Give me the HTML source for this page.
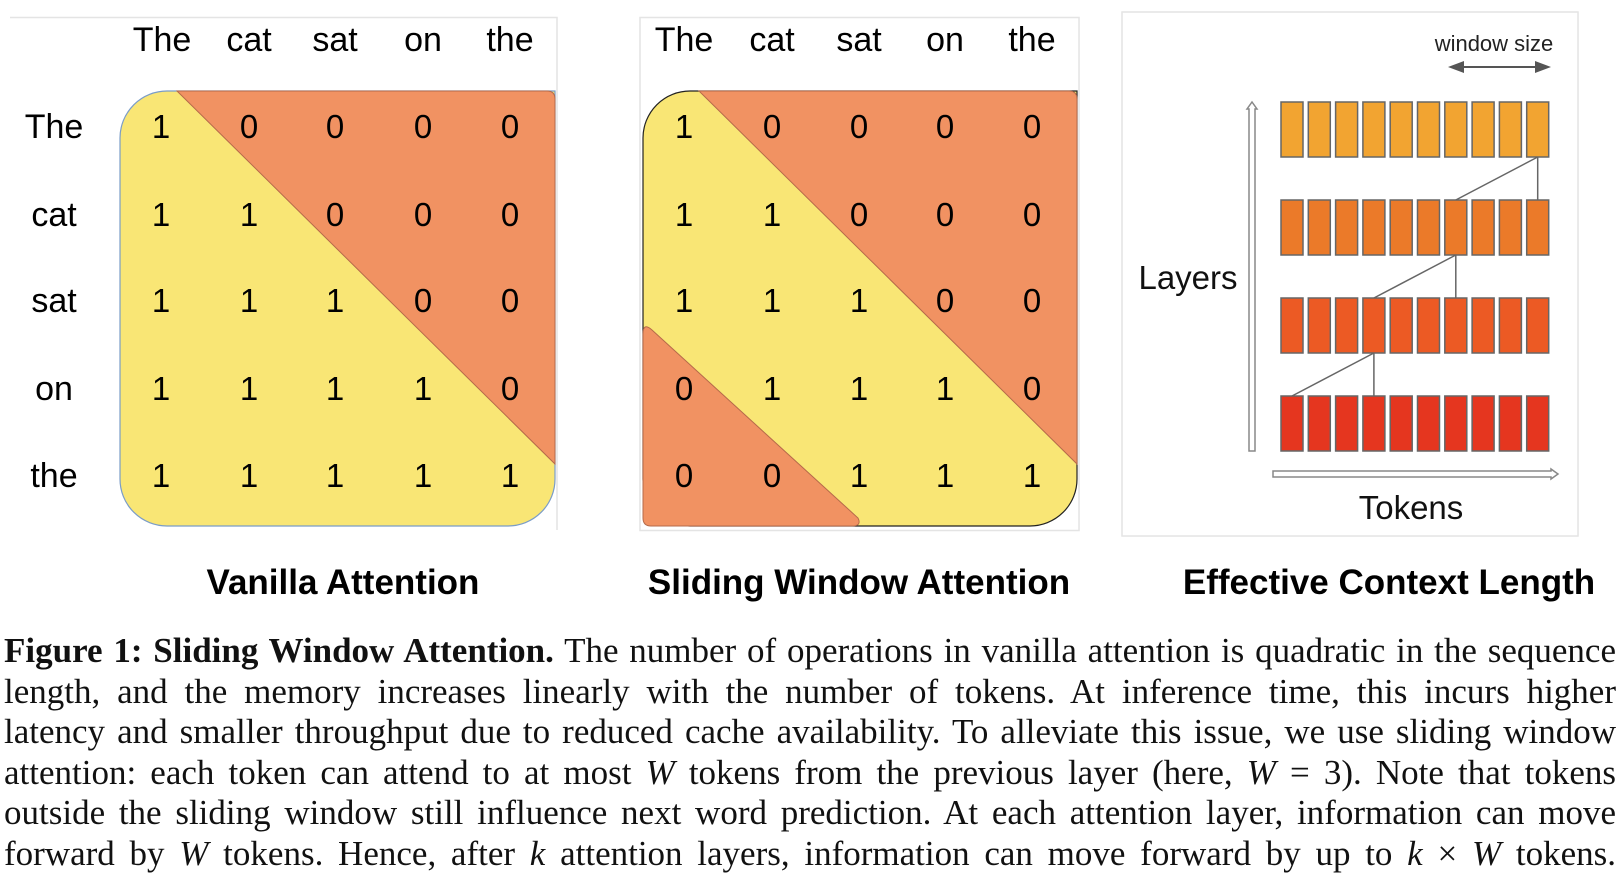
<!DOCTYPE html>
<html><head><meta charset="utf-8"><style>
html,body{margin:0;padding:0;background:#fff;width:1618px;height:876px;overflow:hidden}
svg{position:absolute;left:0;top:0}
.cap{position:absolute;left:4px;top:631px;width:1612px;font-family:"Liberation Serif",serif;font-size:35px;line-height:40.6px;color:#111}
.cap div{text-align:justify;text-align-last:justify;white-space:nowrap}
i{font-style:italic}
</style></head><body>
<svg width="1618" height="876" xmlns="http://www.w3.org/2000/svg" font-family="Liberation Sans, sans-serif">
<g stroke="#e4e4e4" stroke-width="1.5" fill="none">
<path d="M10 17.5 H557 V530"/>
<rect x="640" y="17.5" width="439" height="513"/>
<rect x="1122" y="12" width="456" height="524"/>
</g>
<path d="M167 91 H555 V479 A47 47 0 0 1 508 526 H167 A47 47 0 0 1 120 479 V138 A47 47 0 0 1 167 91 Z" fill="#f9e675" stroke="#7a9cc8" stroke-width="1.2"/>
<path d="M177 91 H547 Q555 91 555 99 V464 Z" fill="#f19262" stroke="#b56a4a" stroke-width="1"/>
<path d="M690 91 H1077 V479 A47 47 0 0 1 1030 526 H690 A47 47 0 0 1 643 479 V138 A47 47 0 0 1 690 91 Z" fill="#f9e675" stroke="#222" stroke-width="1.2"/>
<path d="M699 91 H1069 Q1077 91 1077 99 V464 Z" fill="#f19262" stroke="#b56a4a" stroke-width="1"/>
<path d="M643 334 Q643 322 652 330 L858 518 Q862 526 852 526 H651 Q643 526 643 518 Z" fill="#f19262" stroke="#b56a4a" stroke-width="1"/>
<g font-size="34" text-anchor="middle" fill="#000">
<text x="162" y="51">The</text><text x="249" y="51">cat</text><text x="335" y="51">sat</text><text x="423" y="51">on</text><text x="510" y="51">the</text>
<text x="684" y="51">The</text><text x="772" y="51">cat</text><text x="859" y="51">sat</text><text x="945" y="51">on</text><text x="1032" y="51">the</text>
<text x="54" y="138">The</text><text x="54" y="226">cat</text><text x="54" y="312">sat</text><text x="54" y="400">on</text><text x="54" y="487">the</text>
</g>
<g font-size="33" text-anchor="middle" fill="#000">
<text x="161" y="138">1</text><text x="249" y="138">0</text><text x="335" y="138">0</text><text x="423" y="138">0</text><text x="510" y="138">0</text>
<text x="161" y="226">1</text><text x="249" y="226">1</text><text x="335" y="226">0</text><text x="423" y="226">0</text><text x="510" y="226">0</text>
<text x="161" y="312">1</text><text x="249" y="312">1</text><text x="335" y="312">1</text><text x="423" y="312">0</text><text x="510" y="312">0</text>
<text x="161" y="400">1</text><text x="249" y="400">1</text><text x="335" y="400">1</text><text x="423" y="400">1</text><text x="510" y="400">0</text>
<text x="161" y="487">1</text><text x="249" y="487">1</text><text x="335" y="487">1</text><text x="423" y="487">1</text><text x="510" y="487">1</text>
<text x="684" y="138">1</text><text x="772" y="138">0</text><text x="859" y="138">0</text><text x="945" y="138">0</text><text x="1032" y="138">0</text>
<text x="684" y="226">1</text><text x="772" y="226">1</text><text x="859" y="226">0</text><text x="945" y="226">0</text><text x="1032" y="226">0</text>
<text x="684" y="312">1</text><text x="772" y="312">1</text><text x="859" y="312">1</text><text x="945" y="312">0</text><text x="1032" y="312">0</text>
<text x="684" y="400">0</text><text x="772" y="400">1</text><text x="859" y="400">1</text><text x="945" y="400">1</text><text x="1032" y="400">0</text>
<text x="684" y="487">0</text><text x="772" y="487">0</text><text x="859" y="487">1</text><text x="945" y="487">1</text><text x="1032" y="487">1</text>
</g>
<g stroke="#666" stroke-width="1.5">
<g fill="#f2a431">
<rect x="1281" y="102" width="22" height="55"/><rect x="1308.3" y="102" width="22" height="55"/><rect x="1335.6" y="102" width="22" height="55"/><rect x="1362.9" y="102" width="22" height="55"/><rect x="1390.2" y="102" width="22" height="55"/><rect x="1417.5" y="102" width="22" height="55"/><rect x="1444.8" y="102" width="22" height="55"/><rect x="1472.1" y="102" width="22" height="55"/><rect x="1499.4" y="102" width="22" height="55"/><rect x="1526.7" y="102" width="22" height="55"/>
</g>
<g fill="#eb7a29">
<rect x="1281" y="200" width="22" height="55"/><rect x="1308.3" y="200" width="22" height="55"/><rect x="1335.6" y="200" width="22" height="55"/><rect x="1362.9" y="200" width="22" height="55"/><rect x="1390.2" y="200" width="22" height="55"/><rect x="1417.5" y="200" width="22" height="55"/><rect x="1444.8" y="200" width="22" height="55"/><rect x="1472.1" y="200" width="22" height="55"/><rect x="1499.4" y="200" width="22" height="55"/><rect x="1526.7" y="200" width="22" height="55"/>
</g>
<g fill="#ec5a24">
<rect x="1281" y="298" width="22" height="55"/><rect x="1308.3" y="298" width="22" height="55"/><rect x="1335.6" y="298" width="22" height="55"/><rect x="1362.9" y="298" width="22" height="55"/><rect x="1390.2" y="298" width="22" height="55"/><rect x="1417.5" y="298" width="22" height="55"/><rect x="1444.8" y="298" width="22" height="55"/><rect x="1472.1" y="298" width="22" height="55"/><rect x="1499.4" y="298" width="22" height="55"/><rect x="1526.7" y="298" width="22" height="55"/>
</g>
<g fill="#e5361f">
<rect x="1281" y="396" width="22" height="55"/><rect x="1308.3" y="396" width="22" height="55"/><rect x="1335.6" y="396" width="22" height="55"/><rect x="1362.9" y="396" width="22" height="55"/><rect x="1390.2" y="396" width="22" height="55"/><rect x="1417.5" y="396" width="22" height="55"/><rect x="1444.8" y="396" width="22" height="55"/><rect x="1472.1" y="396" width="22" height="55"/><rect x="1499.4" y="396" width="22" height="55"/><rect x="1526.7" y="396" width="22" height="55"/>
</g>
<g fill="none">
<path d="M1537.7 157 L1455.8 200 M1537.7 157 V200"/>
<path d="M1455.8 255 L1373.9 298 M1455.8 255 V298"/>
<path d="M1373.9 353 L1292 396 M1373.9 353 V396"/>
</g>
</g>
<path d="M1249 451 V109 H1247 L1252 102 L1257 109 H1255 V451 Z" fill="#fff" stroke="#888" stroke-width="1.5"/>
<path d="M1273 471 H1551 V469 L1558 474 L1551 479 V477 H1273 Z" fill="#fff" stroke="#888" stroke-width="1.5"/>
<path d="M1462 67 H1536" stroke="#555" stroke-width="2"/>
<path d="M1448 67 L1464 61 L1464 73 Z M1551 67 L1535 61 L1535 73 Z" fill="#555"/>
<text x="1494" y="51" font-size="22" text-anchor="middle" fill="#222">window size</text>
<text x="1188" y="289" font-size="33" text-anchor="middle" fill="#111">Layers</text>
<text x="1411" y="519" font-size="33" text-anchor="middle" fill="#111">Tokens</text>
<g font-size="35" font-weight="bold" text-anchor="middle" fill="#000">
<text x="343" y="594">Vanilla Attention</text>
<text x="859" y="594">Sliding Window Attention</text>
<text x="1389" y="594">Effective Context Length</text>
</g>
</svg>
<div class="cap">
<div><b>Figure 1: Sliding Window Attention.</b> The number of operations in vanilla attention is quadratic in the sequence</div>
<div>length, and the memory increases linearly with the number of tokens. At inference time, this incurs higher</div>
<div>latency and smaller throughput due to reduced cache availability. To alleviate this issue, we use sliding window</div>
<div>attention: each token can attend to at most <i>W</i> tokens from the previous layer (here, <i>W</i> = 3). Note that tokens</div>
<div>outside the sliding window still influence next word prediction. At each attention layer, information can move</div>
<div>forward by <i>W</i> tokens. Hence, after <i>k</i> attention layers, information can move forward by up to <i>k</i> × <i>W</i> tokens.</div>
</div>
</body></html>
